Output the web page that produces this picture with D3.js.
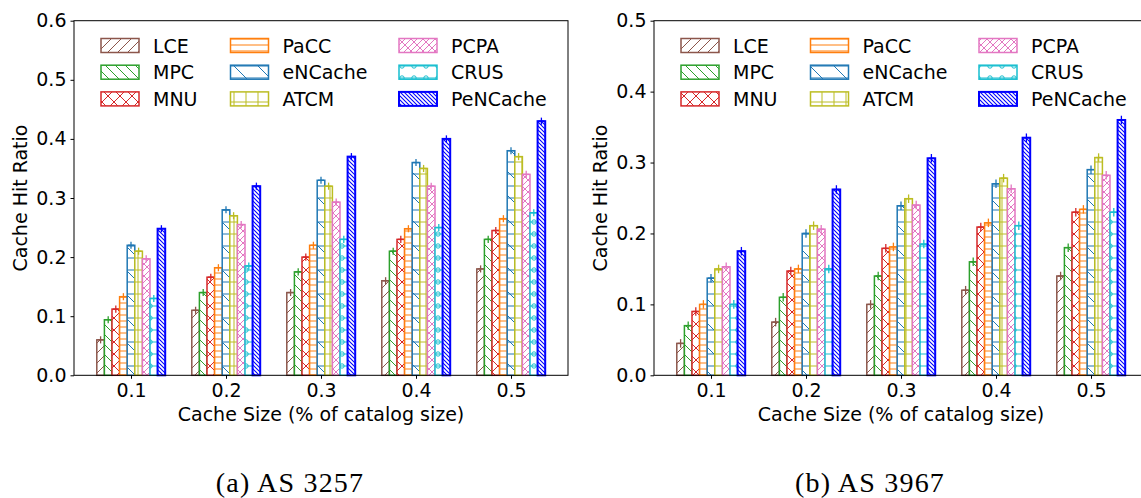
<!DOCTYPE html>
<html>
<head>
<meta charset="utf-8">
<script src="https://cdn.jsdelivr.net/npm/d3@7"></script>
<style>
  body { margin: 0; background: #fff; }
  svg { display: block; }
  text { font-family: "DejaVu Sans", sans-serif; fill: #000; }
</style>
</head>
<body>
<svg id="fig" width="1141" height="498"></svg>
<script>
// Cache sizes on the x axis (% of catalog size)
const cacheSizes = [0.1, 0.2, 0.3, 0.4, 0.5];
const sizeLabels = ["0.1", "0.2", "0.3", "0.4", "0.5"];

// Caching strategies, in plotting / legend order
const methods = ["LCE", "MPC", "MNU", "PaCC", "eNCache", "ATCM", "PCPA", "CRUS", "PeNCache"];
const methodColors = ["#8c564b", "#2ca02c", "#d62728", "#ff7f0e", "#1f77b4", "#bcbd22", "#e377c2", "#17becf", "#0000ff"];

// Cache hit ratio, AS 3257 (one row per method, one value per cache size)
const hitAS3257 = [
  [0.060, 0.110, 0.140, 0.160, 0.180],  // LCE
  [0.094, 0.140, 0.175, 0.210, 0.230],  // MPC
  [0.112, 0.166, 0.200, 0.230, 0.245],  // MNU
  [0.133, 0.182, 0.220, 0.248, 0.265],  // PaCC
  [0.220, 0.280, 0.330, 0.360, 0.380],  // eNCache
  [0.210, 0.270, 0.320, 0.350, 0.370],  // ATCM
  [0.197, 0.255, 0.293, 0.320, 0.340],  // PCPA
  [0.130, 0.185, 0.230, 0.250, 0.275],  // CRUS
  [0.248, 0.320, 0.370, 0.400, 0.430]   // PeNCache
];

// Cache hit ratio, AS 3967
const hitAS3967 = [
  [0.045, 0.075, 0.100, 0.120, 0.140],  // LCE
  [0.070, 0.110, 0.140, 0.160, 0.180],  // MPC
  [0.090, 0.147, 0.179, 0.209, 0.230],  // MNU
  [0.100, 0.150, 0.181, 0.215, 0.234],  // PaCC
  [0.137, 0.200, 0.239, 0.270, 0.290],  // eNCache
  [0.150, 0.211, 0.249, 0.278, 0.307],  // ATCM
  [0.153, 0.206, 0.240, 0.263, 0.282],  // PCPA
  [0.100, 0.150, 0.185, 0.211, 0.230],  // CRUS
  [0.175, 0.262, 0.306, 0.335, 0.360]   // PeNCache
];

// Half-width of the error bars (hit ratio units)
const errHalf = 0.006;

// y tick values for each panel
const yTicksAS3257 = [0, 0.1, 0.2, 0.3, 0.4, 0.5, 0.6];
const yTicksAS3967 = [0, 0.1, 0.2, 0.3, 0.4, 0.5];

const xTitle = "Cache Size (% of catalog size)";
const yTitle = "Cache Hit Ratio";

// Hatch definitions per method: [kind, period]
const hatches = [
  { tile: 10, parts: [["/", 10]] },                    // LCE
  { tile: 10, parts: [["\\", 10]] },                   // MPC
  { tile: 12, parts: [["/", 12], ["\\", 12]] },        // MNU
  { tile: 12, parts: [["-", 6]] },                     // PaCC
  { tile: 24, parts: [["\\", 24], ["-", 12]] },        // eNCache
  { tile: 12, parts: [["|", 12], ["-", 12]] },         // ATCM
  { tile: 12, parts: [["/", 6], ["\\", 12]] },         // PCPA
  { tile: 12, parts: [["o", 12], ["-", 12]] },         // CRUS
  { tile: 4,  parts: [["\\", 4]] }                     // PeNCache
];

const svg = d3.select("#fig");
const defs = svg.append("defs");

// Build one SVG pattern per method
methods.forEach((m, i) => {
  const h = hatches[i];
  const T = h.tile;
  const col = methodColors[i];
  const pat = defs.append("pattern")
    .attr("id", "hatch-" + m)
    .attr("patternUnits", "userSpaceOnUse")
    .attr("width", T).attr("height", T);
  pat.append("rect").attr("width", T).attr("height", T).attr("fill", "#fff");
  h.parts.forEach(([kind, p]) => {
    const n = Math.round(T / p);
    if (kind === "-") {
      for (let k = 0; k < n; k++) {
        const yy = k * p + p / 2;
        pat.append("line").attr("x1", -1).attr("x2", T + 1).attr("y1", yy).attr("y2", yy);
      }
    } else if (kind === "|") {
      for (let k = 0; k < n; k++) {
        const xx = k * p + p / 2;
        pat.append("line").attr("y1", -1).attr("y2", T + 1).attr("x1", xx).attr("x2", xx);
      }
    } else if (kind === "/") {
      for (let k = 0; k <= 2 * n; k++) {
        const c = k * p;
        pat.append("line").attr("x1", c - T - 1).attr("y1", T + 1).attr("x2", c + 1).attr("y2", -1);
      }
    } else if (kind === "\\") {
      for (let k = 0; k <= 2 * n; k++) {
        const c = -T + k * p;
        pat.append("line").attr("x1", c - 1).attr("y1", -1).attr("x2", c + T + 1).attr("y2", T + 1);
      }
    } else if (kind === "o") {
      for (let a = 0; a < n; a++) for (let b = 0; b < n; b++) {
        pat.append("circle").attr("cx", a * p + p / 2).attr("cy", b * p + p / 2).attr("r", 2.2)
          .attr("fill", "none").attr("stroke", col).attr("stroke-width", 1);
      }
    }
  });
  pat.selectAll("line").attr("stroke", col).attr("stroke-width", i === 8 ? 1.1 : 1);
});

const panels = [
  { values: hitAS3257, yTicks: yTicksAS3257, yMax: 0.6, left: 74,  caption: "(a) AS 3257", captionX: 290 },
  { values: hitAS3967, yTicks: yTicksAS3967, yMax: 0.5, left: 654, caption: "(b) AS 3967", captionX: 870 }
];

const plotTop = 20.7, plotBottom = 375.3, plotW = 494;
const barW = 0.008;  // bar width in x-axis units

panels.forEach(pn => {
  const x = d3.scaleLinear().domain([0.04, 0.56]).range([pn.left, pn.left + plotW]);
  const y = d3.scaleLinear().domain([0, pn.yMax]).range([plotBottom, plotTop]);
  const g = svg.append("g");

  // Bars with error bars, series by series
  methods.forEach((m, i) => {
    const col = methodColors[i];
    const offset = (i - (methods.length - 1) / 2) * barW;
    const sg = g.append("g");
    sg.selectAll("rect").data(pn.values[i]).join("rect")
      .attr("x", (d, j) => x(cacheSizes[j] + offset - barW / 2))
      .attr("width", x(barW) - x(0))
      .attr("y", d => y(d))
      .attr("height", d => y(0) - y(d))
      .attr("fill", `url(#hatch-${m})`)
      .attr("stroke", col)
      .attr("stroke-width", i === 8 ? 2 : 1.5);
    const eg = sg.selectAll("g.err").data(pn.values[i]).join("g").attr("class", "err")
      .attr("stroke", col).attr("stroke-width", 1.3);
    eg.append("line")
      .attr("x1", (d, j) => x(cacheSizes[j] + offset)).attr("x2", (d, j) => x(cacheSizes[j] + offset))
      .attr("y1", d => y(d - errHalf)).attr("y2", d => y(d + errHalf));
    eg.append("line")
      .attr("x1", (d, j) => x(cacheSizes[j] + offset) - 3).attr("x2", (d, j) => x(cacheSizes[j] + offset) + 3)
      .attr("y1", d => y(d)).attr("y2", d => y(d));
  });

  // Axes
  const yAxis = d3.axisLeft(y).tickValues(pn.yTicks).tickFormat(d3.format(".1f")).tickSize(3.5).tickPadding(4);
  const xAxis = d3.axisBottom(x).tickValues(cacheSizes).tickFormat((d, j) => sizeLabels[j]).tickSize(3.5).tickPadding(5);
  const ya = g.append("g").attr("transform", `translate(${pn.left},0)`).call(yAxis);
  const xa = g.append("g").attr("transform", `translate(0,${plotBottom})`).call(xAxis);
  [ya, xa].forEach(a => {
    a.select(".domain").remove();
    a.selectAll(".tick line").attr("stroke", "#000").attr("stroke-width", 1);
    a.selectAll(".tick text").style("font-size", "19px").style("font-family", "DejaVu Sans").attr("fill", "#000");
  });

  // Frame
  g.append("rect").attr("x", pn.left).attr("y", plotTop).attr("width", plotW).attr("height", plotBottom - plotTop)
    .attr("fill", "none").attr("stroke", "#000").attr("stroke-width", 1);

  // Axis titles
  g.append("text").attr("x", pn.left + plotW / 2).attr("y", 421).attr("text-anchor", "middle")
    .style("font-size", "19px").text(xTitle);
  g.append("text").attr("transform", `translate(${pn.left - 47},${(plotTop + plotBottom) / 2}) rotate(-90)`)
    .attr("text-anchor", "middle").style("font-size", "19px").text(yTitle);

  // Legend (3 columns, column-major)
  const colOffsets = [0, 129.5, 298];
  const lg = g.append("g");
  methods.forEach((m, i) => {
    const c = Math.floor(i / 3), r = i % 3;
    const px = pn.left + 27 + colOffsets[c];
    const py = 38.5 + r * 26.7;
    lg.append("rect").attr("x", px).attr("y", py).attr("width", 38).attr("height", 14)
      .attr("fill", `url(#hatch-${m})`).attr("stroke", methodColors[i]).attr("stroke-width", i === 8 ? 2 : 1.5);
    lg.append("text").attr("x", px + 52).attr("y", py + 14).style("font-size", "19px").text(m);
  });

  // Sub-figure caption
  svg.append("text").attr("x", pn.captionX).attr("y", 492).attr("text-anchor", "middle")
    .style("font-family", "'Liberation Serif', serif").style("font-size", "28px")
    .style("letter-spacing", "1.2px").text(pn.caption);
});
</script>
</body>
</html>
